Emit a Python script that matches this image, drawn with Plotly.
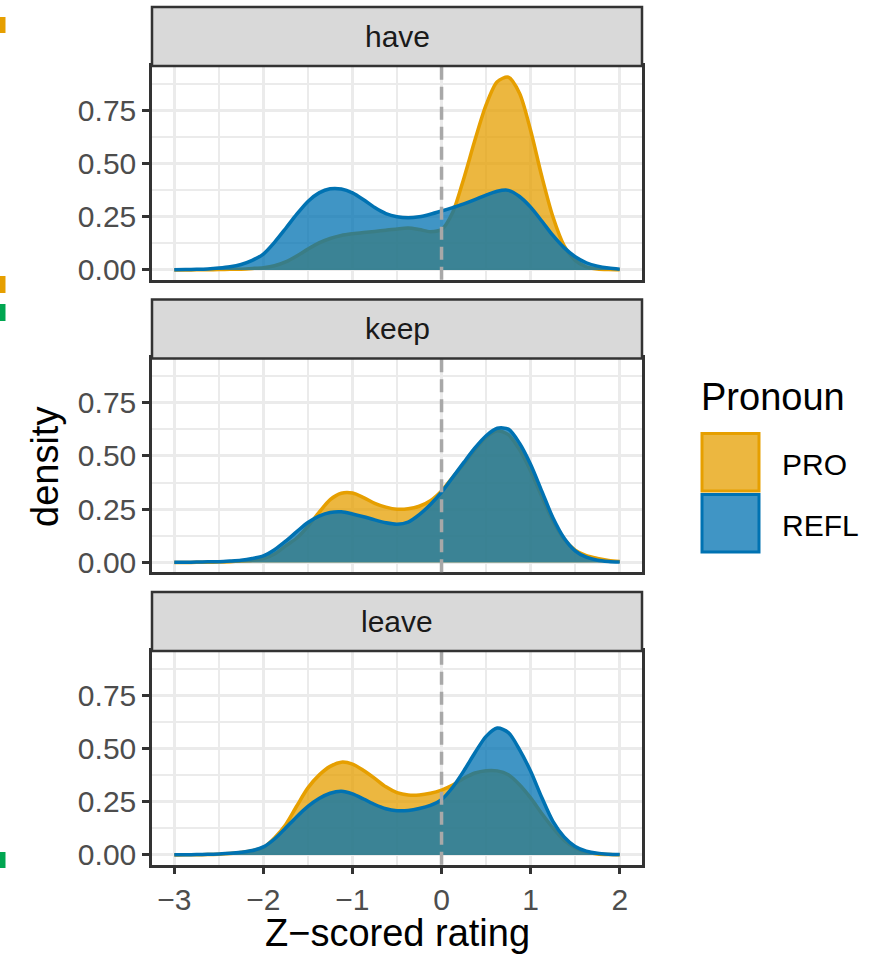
import plotly.graph_objects as go

# Kernel density of z-scored ratings, evaluated on a common grid
z_grid = [-3.0, -2.875, -2.75, -2.625, -2.5, -2.375, -2.25, -2.125, -2.0,
          -1.875, -1.75, -1.625, -1.5, -1.375, -1.25, -1.125, -1.0,
          -0.875, -0.75, -0.625, -0.5, -0.375, -0.25, -0.125, 0.0,
          0.125, 0.25, 0.375, 0.5, 0.625, 0.75, 0.875, 1.0,
          1.125, 1.25, 1.375, 1.5, 1.625, 1.75, 1.875, 2.0]

verbs = ["have", "keep", "leave"]
pronouns = ["PRO", "REFL"]

have_pro = [0.0, 0.0, 0.001, 0.001, 0.002, 0.003, 0.004, 0.007, 0.011, 0.02, 0.038,
            0.066, 0.098, 0.127, 0.148, 0.162, 0.17, 0.176, 0.181, 0.187, 0.193,
            0.197, 0.19, 0.18, 0.19, 0.27, 0.43, 0.61, 0.775, 0.884, 0.905,
            0.83, 0.655, 0.44, 0.25, 0.115, 0.045, 0.015, 0.005, 0.002, 0.001]
have_refl = [0.001, 0.002, 0.003, 0.005, 0.009, 0.015, 0.026, 0.045, 0.075, 0.13, 0.195,
             0.262, 0.322, 0.362, 0.381, 0.38, 0.362, 0.33, 0.293, 0.265, 0.25,
             0.245, 0.25, 0.262, 0.277, 0.293, 0.31, 0.33, 0.352, 0.37, 0.374,
             0.345, 0.295, 0.23, 0.162, 0.105, 0.062, 0.034, 0.018, 0.009, 0.004]
keep_pro = [0.0, 0.0, 0.001, 0.001, 0.002, 0.004, 0.007, 0.011, 0.018, 0.04, 0.078,
            0.115, 0.17, 0.235, 0.295, 0.325, 0.326, 0.305, 0.278, 0.26, 0.25,
            0.252, 0.264, 0.29, 0.336, 0.4, 0.463, 0.53, 0.587, 0.618, 0.6,
            0.53, 0.43, 0.31, 0.196, 0.11, 0.058, 0.032, 0.019, 0.01, 0.005]
keep_refl = [0.001, 0.001, 0.002, 0.003, 0.004, 0.007, 0.011, 0.019, 0.031, 0.06, 0.1,
             0.145, 0.188, 0.218, 0.235, 0.238, 0.228, 0.215, 0.2, 0.187, 0.18,
             0.19, 0.225, 0.272, 0.33, 0.4, 0.47, 0.538, 0.595, 0.63, 0.626,
             0.56, 0.46, 0.335, 0.21, 0.115, 0.055, 0.025, 0.011, 0.005, 0.002]
leave_pro = [0.0, 0.001, 0.001, 0.002, 0.004, 0.007, 0.012, 0.02, 0.035, 0.08, 0.142,
             0.23, 0.315, 0.375, 0.416, 0.436, 0.427, 0.397, 0.36, 0.32, 0.293,
             0.282, 0.282, 0.29, 0.305, 0.328, 0.36, 0.385, 0.396, 0.395, 0.377,
             0.33, 0.268, 0.195, 0.127, 0.07, 0.033, 0.014, 0.005, 0.002, 0.001]
leave_refl = [0.001, 0.001, 0.002, 0.003, 0.005, 0.008, 0.013, 0.021, 0.038, 0.075, 0.127,
              0.18, 0.228, 0.265, 0.29, 0.299, 0.287, 0.263, 0.237, 0.217, 0.208,
              0.209, 0.218, 0.233, 0.26, 0.318, 0.395, 0.48, 0.557, 0.596, 0.575,
              0.495, 0.393, 0.27, 0.158, 0.085, 0.04, 0.018, 0.008, 0.004, 0.002]

density = {
    "have": {"PRO": have_pro, "REFL": have_refl},
    "keep": {"PRO": keep_pro, "REFL": keep_refl},
    "leave": {"PRO": leave_pro, "REFL": leave_refl},
}

x_ticks = [-3, -2, -1, 0, 1, 2]
x_tick_text = ["\u22123", "\u22122", "\u22121", "0", "1", "2"]
y_ticks = [0, 0.25, 0.5, 0.75]
y_tick_text = ["0.00", "0.25", "0.50", "0.75"]

line_colors = {"PRO": "#E69F00", "REFL": "#0072B2"}
fill_colors = {"PRO": "rgba(230,159,0,0.75)", "REFL": "rgba(0,114,178,0.75)"}

W, H = 887, 954
FONT = "Liberation Sans, Arial, Helvetica, sans-serif"
BORDER = "#333333"
GRID = "#EBEBEB"


def px(x):
    return x / W


def py(y):
    return 1 - y / H


X_LEFT, X_RIGHT = 152, 642
X_RANGE = [-3.25, 2.25]
Y_RANGE = [-0.0456, 0.958]
UNIT = 213.0          # pixels per density unit
PITCH = 292.5         # vertical distance between facets
STRIP_H = 59

fig = go.Figure()
shapes = []
annotations = []

for k, verb in enumerate(verbs):
    suffix = "" if k == 0 else str(k + 1)
    xa, ya = "x" + suffix, "y" + suffix
    y0 = 270 + PITCH * k
    top = y0 - Y_RANGE[1] * UNIT
    bottom = y0 - Y_RANGE[0] * UNIT
    last = k == len(verbs) - 1

    for p in pronouns:
        fig.add_trace(go.Scatter(
            x=z_grid, y=density[verb][p], xaxis=xa, yaxis=ya,
            mode="lines", fill="tozeroy", fillcolor=fill_colors[p],
            line=dict(color=line_colors[p], width=3.5, shape="spline", smoothing=0.8),
            name=p, showlegend=False, hoverinfo="skip",
        ))

    fig.layout["xaxis" + suffix] = dict(
        domain=[px(X_LEFT), px(X_RIGHT)], range=X_RANGE, anchor=ya,
        tickvals=x_ticks, ticktext=x_tick_text, showticklabels=last,
        ticks="outside" if last else "", ticklen=7, tickwidth=2.5, tickcolor=BORDER,
        tickfont=dict(family=FONT, size=30, color="#4D4D4D"),
        showgrid=True, gridcolor=GRID, gridwidth=3,
        minor=dict(tickvals=[-2.5, -1.5, -0.5, 0.5, 1.5], showgrid=True,
                   gridcolor=GRID, gridwidth=1.8, ticks=""),
        showline=True, mirror=True, linecolor=BORDER, linewidth=2.5,
        zeroline=False, fixedrange=True, automargin=False,
    )
    fig.layout["yaxis" + suffix] = dict(
        domain=[py(bottom), py(top)], range=Y_RANGE, anchor=xa,
        tickvals=y_ticks, ticktext=y_tick_text,
        ticks="outside", ticklen=7, tickwidth=2.5, tickcolor=BORDER,
        tickfont=dict(family=FONT, size=30, color="#4D4D4D"),
        showgrid=True, gridcolor=GRID, gridwidth=3,
        minor=dict(tickvals=[0.125, 0.375, 0.625, 0.875], showgrid=True,
                   gridcolor=GRID, gridwidth=1.8, ticks=""),
        showline=True, mirror=True, linecolor=BORDER, linewidth=2.5,
        zeroline=False, fixedrange=True, automargin=False,
    )

    # reference line at zero
    shapes.append(dict(type="line", xref=xa, yref=ya + " domain", x0=0, x1=0, y0=0, y1=1,
                       line=dict(color="#A8A8A8", width=3.5, dash="13px,7px"), layer="above"))

    # facet strip
    shapes.append(dict(type="rect", xref="paper", yref="paper",
                       x0=px(X_LEFT), x1=px(X_RIGHT), y0=py(top), y1=py(top - STRIP_H),
                       fillcolor="#D9D9D9", line=dict(color=BORDER, width=2.5), layer="above"))
    annotations.append(dict(text=verb, xref="paper", yref="paper",
                            x=px((X_LEFT + X_RIGHT) / 2), y=py(top - STRIP_H / 2),
                            xanchor="center", yanchor="middle", showarrow=False,
                            font=dict(family=FONT, size=30, color="#1A1A1A")))

# axis titles
annotations.append(dict(text="Z\u2212scored rating", xref="paper", yref="paper",
                        x=px((X_LEFT + X_RIGHT) / 2), y=0, xanchor="center",
                        yanchor="bottom", yshift=-2, showarrow=False,
                        font=dict(family=FONT, size=38, color="#000000")))
annotations.append(dict(text="density", xref="paper", yref="paper",
                        x=px(45), y=py(467), xanchor="center", yanchor="middle",
                        textangle=-90, showarrow=False,
                        font=dict(family=FONT, size=38, color="#000000")))

# legend
annotations.append(dict(text="Pronoun", xref="paper", yref="paper", x=px(699), y=py(397),
                        xanchor="left", yanchor="middle", showarrow=False,
                        font=dict(family=FONT, size=38, color="#000000")))
for i, p in enumerate(pronouns):
    top = 432 + 61 * i
    shapes.append(dict(type="rect", xref="paper", yref="paper",
                       x0=px(702), x1=px(759), y0=py(top + 59), y1=py(top + 1.5),
                       fillcolor=fill_colors[p], line=dict(color=line_colors[p], width=3)))
    annotations.append(dict(text=p, xref="paper", yref="paper", x=px(780), y=py(top + 32),
                            xanchor="left", yanchor="middle", showarrow=False,
                            font=dict(family=FONT, size=30, color="#000000")))

# small colour marks along the left edge
for y_a, y_b, col in [(17, 33, "#E69F00"), (276, 293, "#E69F00"),
                      (304, 321, "#00A651"), (852, 868, "#00A651")]:
    shapes.append(dict(type="rect", xref="paper", yref="paper", x0=0, x1=px(5.5),
                       y0=py(y_b), y1=py(y_a), fillcolor=col, line=dict(width=0)))

fig.update_layout(
    width=W, height=H, margin=dict(l=0, r=0, t=0, b=0, autoexpand=False),
    paper_bgcolor="white", plot_bgcolor="white",
    shapes=shapes, annotations=annotations, showlegend=False,
    font=dict(family=FONT),
)

fig.write_html("out.html")
